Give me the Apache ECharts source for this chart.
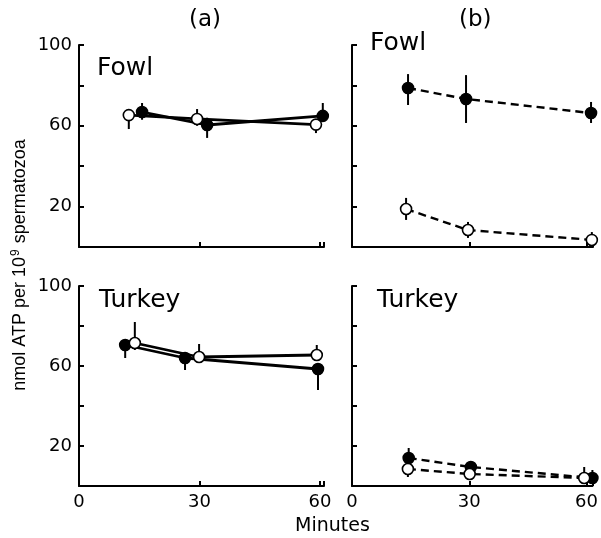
<!DOCTYPE html>
<html>
<head>
<meta charset="utf-8">
<script src="https://cdn.jsdelivr.net/npm/echarts@6/dist/echarts.min.js"></script>
<style>
  html, body { margin: 0; padding: 0; background: #fff; }
  #chart { width: 601px; height: 538px; }
</style>
</head>
<body>
<div id="chart"></div>
<script>
// 数据：[分钟, 数值]，误差线：[分钟, 下限, 上限]
var yTickLabels = [100, 60, 20];
var xTickLabels = [0, 30, 60];

// (a) Fowl
var fowlA_open = [[12.4, 65.3], [29.4, 63.4], [59, 60.6]];
var fowlA_openErr = [[12.4, 58.4, 66], [29.4, 60, 68.3], [59, 56.4, 63]];
var fowlA_fill = [[15.7, 66.8], [31.9, 60.4], [60.7, 64.9]];
var fowlA_fillErr = [[15.7, 63, 71.3], [31.9, 54, 64], [60.7, 62, 71.3]];

// (b) Fowl
var fowlB_fill = [[14.3, 78.7], [29.1, 73.3], [61, 66.3]];
var fowlB_fillErr = [[14.3, 70.3, 85.6], [29.1, 61.4, 85.1], [61, 61.4, 71.8]];
var fowlB_open = [[13.8, 18.8], [29.6, 8.4], [61.2, 3.5]];
var fowlB_openErr = [[13.8, 13.4, 24.3], [29.6, 4.5, 12.4], [61.2, 1, 7.4]];

// (a) Turkey
var turkeyA_fill = [[11.5, 70.5], [26.4, 64], [59.5, 58.5]];
var turkeyA_fillErr = [[11.5, 64, 72], [26.4, 58, 66], [59.5, 48, 61]];
var turkeyA_open = [[13.9, 71.5], [29.9, 64.5], [59.2, 65.5]];
var turkeyA_openErr = [[13.9, 68, 82], [29.9, 62, 71], [59.2, 63, 70.5]];

// (b) Turkey
var turkeyB_fill = [[14.5, 14], [30.4, 9.5], [61.5, 4]];
var turkeyB_fillErr = [[14.5, 12, 19], [30.4, 8, 12.5], [61.5, 3, 8]];
var turkeyB_open = [[14.3, 8.5], [30.1, 6], [59.4, 4]];
var turkeyB_openErr = [[14.3, 4.5, 9], [30.1, 3, 7], [59.4, 3, 9.5]];

var FONT = 'DejaVu Sans';

function makeX(idx, max, showLabel) {
  return {
    type: 'value', gridIndex: idx, min: 0, max: max, interval: 30,
    axisLine: { show: true, lineStyle: { color: '#000', width: 2 } },
    axisTick: { show: true, inside: true, length: 5, lineStyle: { color: '#000', width: 2 } },
    axisLabel: {
      show: showLabel, color: '#000', fontSize: 18, fontFamily: FONT, margin: 7,
      formatter: function (v) { return xTickLabels.indexOf(v) >= 0 ? String(v) : ''; }
    },
    splitLine: { show: false }
  };
}

function makeY(idx, showLabel) {
  return {
    type: 'value', gridIndex: idx, min: 0, max: 100, interval: 20,
    axisLine: { show: true, lineStyle: { color: '#000', width: 2 } },
    axisTick: { show: true, inside: true, length: 5, lineStyle: { color: '#000', width: 2 } },
    axisLabel: {
      show: showLabel, color: '#000', fontSize: 18, fontFamily: FONT, margin: 7,
      formatter: function (v) { return yTickLabels.indexOf(v) >= 0 ? String(v) : ''; }
    },
    splitLine: { show: false }
  };
}

function lineSeries(idx, data, open, dashed) {
  return {
    type: 'line', xAxisIndex: idx, yAxisIndex: idx, data: data,
    symbol: 'circle', symbolSize: 11, clip: false, z: 3,
    lineStyle: { color: '#000', width: dashed ? 2.4 : 2.8, type: dashed ? [8, 5] : 'solid' },
    itemStyle: { color: open ? '#fff' : '#000', borderColor: '#000', borderWidth: 1.6 },
    emphasis: { disabled: true }
  };
}

function errSeries(idx, data) {
  return {
    type: 'custom', xAxisIndex: idx, yAxisIndex: idx, data: data, z: 1, clip: false,
    renderItem: function (params, api) {
      var p1 = api.coord([api.value(0), api.value(1)]);
      var p2 = api.coord([api.value(0), api.value(2)]);
      return {
        type: 'line',
        shape: { x1: p1[0], y1: p1[1], x2: p2[0], y2: p2[1] },
        style: { stroke: '#000', lineWidth: 2 }
      };
    }
  };
}

var chart = echarts.init(document.getElementById('chart'));
var option = {
  backgroundColor: '#fff',
  animation: false,
  grid: [
    { left: 79, top: 45, width: 245, height: 202 },
    { left: 352, top: 45, width: 241, height: 202 },
    { left: 79, top: 286, width: 245, height: 200 },
    { left: 352, top: 286, width: 241, height: 200 }
  ],
  xAxis: [makeX(0, 61, false), makeX(1, 61.5, false), makeX(2, 61, true), makeX(3, 61.5, true)],
  yAxis: [makeY(0, true), makeY(1, false), makeY(2, true), makeY(3, false)],
  graphic: [
    { type: 'text', left: 189, top: 9, style: { text: '(a)', fontSize: 23, fontFamily: FONT, fill: '#000' } },
    { type: 'text', left: 459, top: 9, style: { text: '(b)', fontSize: 23, fontFamily: FONT, fill: '#000' } },
    { type: 'text', left: 97, top: 56, style: { text: 'Fowl', fontSize: 25, fontFamily: FONT, fill: '#000' } },
    { type: 'text', left: 370, top: 31, style: { text: 'Fowl', fontSize: 25, fontFamily: FONT, fill: '#000' } },
    { type: 'text', left: 99, top: 288, style: { text: 'Turkey', fontSize: 25, fontFamily: FONT, fill: '#000' } },
    { type: 'text', left: 377, top: 288, style: { text: 'Turkey', fontSize: 25, fontFamily: FONT, fill: '#000' } },
    { type: 'text', left: 295, top: 517, style: { text: 'Minutes', fontSize: 19, fontFamily: FONT, fill: '#000' } },
    {
      type: 'text', x: 20, y: 265, rotation: Math.PI / 2,
      style: {
        text: '{a|nmol ATP per 10}{s|9}{a| spermatozoa}',
        align: 'center', verticalAlign: 'middle', fill: '#000',
        rich: {
          a: { fontSize: 18, fontFamily: 'Liberation Sans', fill: '#000' },
          s: { fontSize: 12, fontFamily: 'Liberation Sans', fill: '#000', verticalAlign: 'top', padding: [0, 1, 8, 1] }
        }
      }
    }
  ],
  series: [
    errSeries(0, fowlA_openErr), errSeries(0, fowlA_fillErr),
    lineSeries(0, fowlA_open, true, false), lineSeries(0, fowlA_fill, false, false),
    errSeries(1, fowlB_fillErr), errSeries(1, fowlB_openErr),
    lineSeries(1, fowlB_fill, false, true), lineSeries(1, fowlB_open, true, true),
    errSeries(2, turkeyA_fillErr), errSeries(2, turkeyA_openErr),
    lineSeries(2, turkeyA_fill, false, false), lineSeries(2, turkeyA_open, true, false),
    errSeries(3, turkeyB_fillErr), errSeries(3, turkeyB_openErr),
    lineSeries(3, turkeyB_fill, false, true), lineSeries(3, turkeyB_open, true, true)
  ]
};
chart.setOption(option);
</script>
</body>
</html>
